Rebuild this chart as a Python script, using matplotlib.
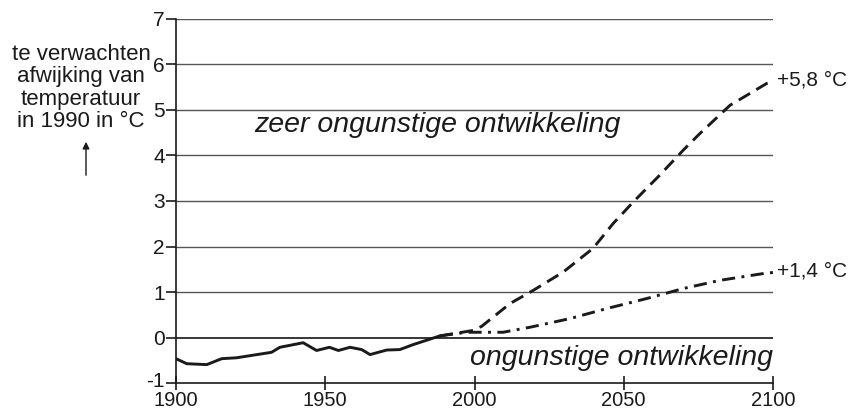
import matplotlib
matplotlib.use("Agg")
import matplotlib.pyplot as plt
from matplotlib.transforms import ScaledTranslation

plt.rcParams['font.family'] = ['Liberation Sans', 'DejaVu Sans']

# Historical (measured) deviation
hist_years = [1900, 1903.6, 1910.3, 1915.3, 1920.3, 1932, 1934.8, 1942.6, 1947.1,
              1951.4, 1954.4, 1958.3, 1962.2, 1965, 1970.6, 1975, 1979.5, 1988.4]
hist_vals = [-0.46, -0.57, -0.59, -0.46, -0.44, -0.32, -0.21, -0.11, -0.28,
             -0.21, -0.28, -0.21, -0.26, -0.37, -0.27, -0.26, -0.15, 0.04]

# Very unfavourable scenario (dashed)
high_years = [1988.4, 1999.6, 2002.4, 2011.9, 2019.7, 2029.7, 2039.7, 2046.5,
              2053.2, 2062.1, 2070, 2075.5, 2085.6, 2097.9, 2100]
high_vals = [0.04, 0.16, 0.25, 0.75, 1.04, 1.44, 1.96, 2.51,
             2.98, 3.57, 4.12, 4.48, 5.1, 5.58, 5.62]

# Unfavourable scenario (dash-dot)
low_years = [1988.4, 1997.3, 2009.6, 2018.6, 2032, 2044.3, 2057.7, 2070, 2082.3, 2097.9, 2100]
low_vals = [0.04, 0.12, 0.12, 0.23, 0.42, 0.64, 0.86, 1.08, 1.26, 1.42, 1.43]

x_ticks = [1900, 1950, 2000, 2050, 2100]
y_ticks = [-1, 0, 1, 2, 3, 4, 5, 6, 7]

fig = plt.figure(figsize=(8.49, 4.09), dpi=100)
ax = fig.add_axes([176/849, 1-383.3/409, (773-176)/849, (383.3-18.7)/409])
ax.set_xlim(1900, 2100)
ax.set_ylim(-1, 7)

for y in y_ticks[1:]:
    ax.axhline(y, color='black' if y == 0 else '#555555', lw=1.1 if y == 0 else 1.0, zorder=1)

ax.plot(hist_years, hist_vals, color='#1a1a1a', lw=2.1, solid_capstyle='round', zorder=3)
ax.plot(high_years, high_vals, color='#1a1a1a', lw=2.1, dashes=(4.5, 2.5), zorder=3)
ax.plot(low_years, low_vals, color='#1a1a1a', lw=2.1, dashes=(4.5, 2.2, 1.0, 2.2), zorder=3)

for s in ['top', 'right']:
    ax.spines[s].set_visible(False)
for s in ['left', 'bottom']:
    ax.spines[s].set_linewidth(1.2)
    ax.spines[s].set_color('#1a1a1a')

ax.set_xticks(x_ticks)
ax.set_yticks(y_ticks)
ax.set_yticklabels([str(v) for v in y_ticks])
ax.tick_params(axis='x', direction='inout', length=10, width=1.2, labelsize=14.5, pad=0.5, colors='#1a1a1a')
ax.tick_params(axis='y', direction='out', length=7, width=1.2, labelsize=15, pad=1, colors='#1a1a1a')

# nudge the lowest y label up a little so it clears the 1900 label
lbl = ax.yaxis.get_major_ticks()[0].label1
lbl.set_transform(lbl.get_transform() + ScaledTranslation(0, 3/72, fig.dpi_scale_trans))

ax.text(1987.6, 4.67, 'zeer ongunstige ontwikkeling', style='italic', fontsize=20.5,
        ha='center', va='center', color='#1a1a1a')
ax.text(2100, -0.45, 'ongunstige ontwikkeling', style='italic', fontsize=20.5,
        ha='right', va='center', color='#1a1a1a')

ax.text(2101.5, 5.65, '+5,8 °C', fontsize=15, ha='left', va='center', color='#1a1a1a', clip_on=False)
ax.text(2101.5, 1.47, '+1,4 °C', fontsize=15, ha='left', va='center', color='#1a1a1a', clip_on=False)

fig.text(81/849, 1-88/409, 'te verwachten\nafwijking van\ntemperatuur\nin 1990 in °C',
         fontsize=16, ha='center', va='center', linespacing=1.08, color='#1a1a1a')
fig.add_artist(matplotlib.patches.FancyArrowPatch((86/849, 1-178/409), (86/849, 1-139/409),
               transform=fig.transFigure, arrowstyle='-|>', mutation_scale=10,
               color='#1a1a1a', lw=1.0))

fig.savefig('out.png', dpi=100)
